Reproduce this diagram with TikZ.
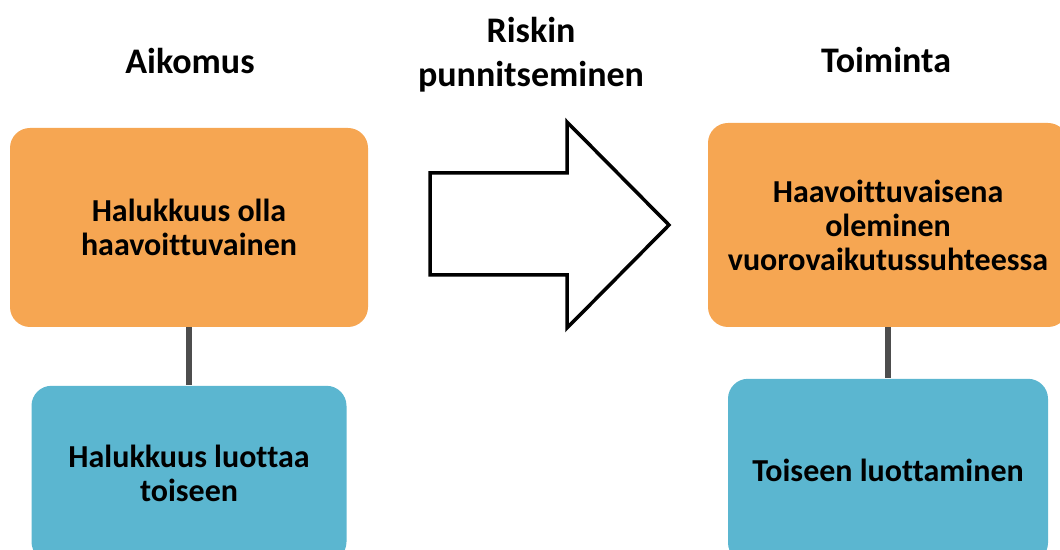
\documentclass[tikz,border=0pt]{standalone}
\usepackage{fontspec}
\setmainfont{Carlito}[Ligatures=NoCommon]
\usetikzlibrary{positioning}

\definecolor{boxorange}{RGB}{246,166,82}
\definecolor{boxblue}{RGB}{91,182,208}
\definecolor{linkgray}{RGB}{77,77,77}

\begin{document}
\begin{tikzpicture}[x=0.5pt,y=-0.5pt,
    heading/.style={font=\bfseries\fontsize{18}{22}\selectfont,align=center},
    box/.style={rounded corners=10pt,inner sep=0pt,align=center,font=\bfseries\fontsize{16}{17}\selectfont},
    orangebox/.style={box,fill=boxorange},
    bluebox/.style={box,fill=boxblue},
    link/.style={draw=linkgray,line width=3pt}]
  \useasboundingbox (0,0) rectangle (1060,550);

  % otsikot
  \node[heading] (aikomus)  at (190,61)  {Aikomus};
  \node[heading] (riski)    at (531,55)  {Riskin\\punnitseminen};
  \node[heading] (toiminta) at (886,60)  {Toiminta};

  % aikomus
  \node[orangebox,minimum width=179pt,minimum height=99.5pt] (halu) at (189,227.5) {Halukkuus olla\\haavoittuvainen};
  \node[bluebox,minimum width=157.5pt,minimum height=88pt] (luottaa) [below=29pt of halu] {Halukkuus luottaa\\toiseen};

  % toiminta
  \node[orangebox,minimum width=180pt,minimum height=102pt] (haavoittuva) at (888,225) {Haavoittuvaisena\\oleminen\\vuorovaikutussuhteessa};
  \node[bluebox,minimum width=160pt,minimum height=92pt] (luottaminen) [below=25.5pt of haavoittuva] {Toiseen luottaminen};

  \path[link] (halu) -- (luottaa)
              (haavoittuva) -- (luottaminen);

  % nuoli
  \draw[line width=1.75pt,fill=white,line join=miter]
    (430,173) -- (567,173) -- (567,122) -- (669,225) -- (567,328) -- (567,275) -- (430,275) -- cycle;
\end{tikzpicture}
\end{document}
